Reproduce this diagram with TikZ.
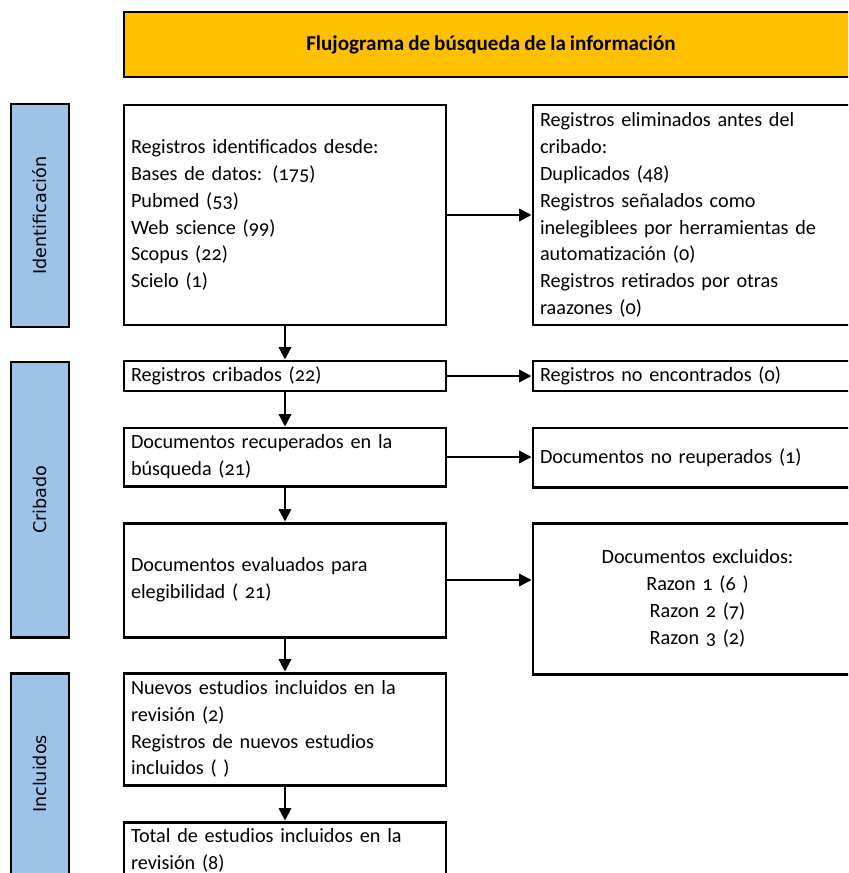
\documentclass[tikz,border=0pt]{standalone}
\usepackage{fontspec}
\setmainfont{Carlito}[Numbers=OldStyle,WordSpace=0.85]
\newfontfamily\ladofont{DejaVu Sans}
\usepackage{tikz}
\usetikzlibrary{arrows.meta,positioning}
\definecolor{amarillo}{HTML}{FFC000}
\definecolor{celeste}{HTML}{9DC3E6}
\tikzset{caja/.style={draw,line width=1.7pt,inner xsep=0.14cm,inner ysep=0pt,align=left,
		font=\fontsize{11.5}{15.3}\selectfont}}
\tikzset{fase/.style={draw,line width=1.7pt,fill=celeste,rotate=90,minimum height=1.16cm,
		inner sep=0pt,font=\ladofont\fontsize{10}{12}\selectfont}}
\tikzset{titulo/.style={draw,line width=1.7pt,fill=amarillo,minimum width=14.68cm,minimum height=1.3cm,
		font=\bfseries\fontsize{12}{14}\selectfont}}
\tikzset{flecha/.style={-{Triangle[length=7pt,width=7pt]},line width=1.2pt}}

\begin{document}
\begin{tikzpicture}
			\useasboundingbox (0,0) rectangle (16.96,-17.46);
			\clip (0,0) rectangle (16.96,-17.46);
			
			\node[titulo] (tit) at (9.82,-0.89) {Flujograma de búsqueda de la información};
			
			% fases
			\node[fase, minimum width=4.46cm] (fid) at (0.8,-4.31) {Identificación};
			\node[fase, minimum width=5.5cm] (fcr) at (0.8,-9.99) {Cribado};
			\node[fase, minimum width=4.04cm] (fin) at (0.8,-15.48) {Incluidos};
			
			% columna izquierda
			\node[caja, text width=6.16cm, minimum height=4.4cm] (ident) at (5.7,-4.3)
			{Registros identificados desde:\\Bases de datos: (175)\\Pubmed (53)\\Web science (99)\\Scopus (22)\\Scielo (1)};
			\node[caja, text width=6.16cm, minimum height=0.6cm] (crib) at (5.7,-7.52) {Registros cribados (22)};
			\node[caja, text width=6.16cm, minimum height=1.16cm] (recu) at (5.7,-9.14)
			{Documentos recuperados en la\\búsqueda (21)};
			\node[caja, text width=6.16cm, minimum height=2.28cm] (eval) at (5.7,-11.6)
			{Documentos evaluados para\\elegibilidad ( 21)};
			\node[caja, text width=6.16cm, minimum height=2.24cm] (nuev) at (5.7,-14.58)
			{Nuevos estudios incluidos en la\\revisión (2)\\Registros de nuevos estudios\\incluidos ( )};
			\node[caja, text width=6.16cm, minimum height=1.12cm] (total) at (5.7,-17.0)
			{Total de estudios incluidos en la\\revisión (8)};
			
			% columna derecha
			\node[caja, text width=6.3cm, minimum height=4.4cm] (elim) at (13.95,-4.3)
			{Registros eliminados antes del\\cribado:\\Duplicados (48)\\Registros señalados como\\inelegiblees por herramientas de\\automatización (0)\\Registros retirados por otras\\raazones (0)};
			\node[caja, text width=6.3cm, minimum height=0.6cm] (noenc) at (13.95,-7.52) {Registros no encontrados (0)};
			\node[caja, text width=6.3cm, minimum height=1.18cm] (norec) at (13.95,-9.15) {Documentos no reuperados (1)};
			\node[caja, text width=6.3cm, minimum height=3.02cm, align=center] (excl) at (13.95,-11.97)
			{Documentos excluidos:\\Razon 1 (6 )\\Razon 2 (7)\\Razon 3 (2)};
			
			% flechas
			\draw[flecha] (ident) -- (crib);
			\draw[flecha] (crib) -- (recu);
			\draw[flecha] (recu) -- (eval);
			\draw[flecha] (eval) -- (nuev);
			\draw[flecha] (nuev) -- (total);
			\draw[flecha] (ident.east) -- (ident.east -| elim.west);
			\draw[flecha] (crib.east) -- (crib.east -| noenc.west);
			\draw[flecha] (recu.east) -- (recu.east -| norec.west);
			\draw[flecha] (eval.east) -- (eval.east -| excl.west);
			\end{tikzpicture}
\end{document}
